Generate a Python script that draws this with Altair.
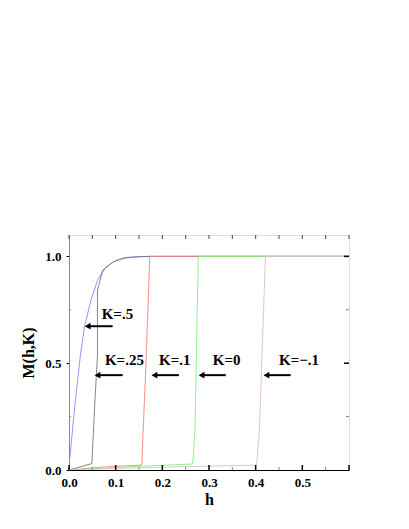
import altair as alt
import pandas as pd

# ---- data ----
series_names = ["K=-.1", "K=0", "K=.1", "K=.25", "K=.5"]
series_colors = ["#dcc0c0", "#7ff07f", "#ff7f7f", "#777777", "#8888ff"]

h_k05 = [0.001, 0.012, 0.024, 0.033, 0.047, 0.061, 0.079, 0.100, 0.122, 0.150, 0.190, 0.600]
m_k05 = [0.040, 0.290, 0.530, 0.670, 0.794, 0.888, 0.950, 0.981, 0.995, 0.999, 1.000, 1.000]

h_k025 = [0.000, 0.049, 0.055, 0.061, 0.061, 0.072, 0.094, 0.115, 0.140, 0.170, 0.600]
m_k025 = [0.000, 0.030, 0.300, 0.537, 0.840, 0.935, 0.973, 0.990, 0.997, 1.000, 1.000]

h_k01 = [0.000, 0.050, 0.100, 0.156, 0.159, 0.165, 0.173, 0.600]
m_k01 = [0.000, 0.010, 0.017, 0.023, 0.187, 0.500, 1.000, 1.000]

h_k0 = [0.000, 0.100, 0.200, 0.265, 0.270, 0.277, 0.600]
m_k0 = [0.000, 0.012, 0.022, 0.028, 0.187, 1.000, 1.000]

h_km01 = [0.000, 0.100, 0.200, 0.300, 0.402, 0.408, 0.421, 0.600]
m_km01 = [0.000, 0.007, 0.013, 0.018, 0.023, 0.187, 1.000, 1.000]

label_texts = ["K=.5", "K=.25", "K=.1", "K=0", "K=\u2212.1"]
label_h = [0.070, 0.077, 0.193, 0.308, 0.450]
label_m = [0.732, 0.517, 0.517, 0.517, 0.517]

arrow_tail_h = [0.0935, 0.115, 0.2355, 0.336, 0.475]
arrow_head_h = [0.040, 0.061, 0.183, 0.284, 0.423]
arrow_m = [0.673, 0.444, 0.444, 0.444, 0.444]

x_labels = [0.0, 0.1, 0.2, 0.3, 0.4, 0.5]
y_labels = [0.0, 0.5, 1.0]
top_ticks = [round(0.05 * i, 2) for i in range(13)]
bottom_major = [0.0, 0.1, 0.2, 0.3, 0.4, 0.5, 0.6]
bottom_minor = [0.05, 0.15, 0.25, 0.35, 0.45, 0.55]
right_major = [0.5, 1.0]
right_minor = [0.25, 0.75]

# ---- build tables ----
rows = []
for name, hs, ms in zip(["K=.5", "K=.25", "K=.1", "K=0", "K=-.1"],
                        [h_k05, h_k025, h_k01, h_k0, h_km01],
                        [m_k05, m_k025, m_k01, m_k0, m_km01]):
    for i, (h, m) in enumerate(zip(hs, ms)):
        rows.append({"series": name, "h": h, "M": m, "order": i})
curves = pd.DataFrame(rows)
labels = pd.DataFrame({"text": label_texts, "h": label_h, "M": label_m})
arrows = pd.DataFrame({"tail": arrow_tail_h, "head": arrow_head_h, "M": arrow_m})

W, H = 280, 235
font = "Liberation Serif"

xs = alt.Scale(domain=[0, 0.6], nice=False, zero=False)
ys = alt.Scale(domain=[0, 1.1], nice=False, zero=False)

x_axis = alt.Axis(values=x_labels, format=".1f", title="h", ticks=False,
                  labelFlush=False, labelOverlap=False,
                  labelFont=font, labelFontWeight="bold", labelFontSize=13,
                  labelPadding=6, titleFont=font, titleFontWeight="bold",
                  titleFontSize=16, titlePadding=2, domainColor="#000000",
                  grid=False, labelColor="#000", titleColor="#000")
y_axis = alt.Axis(values=y_labels, format=".1f", title="M(h,K)", tickSize=3,
                  labelFlush=False, labelOverlap=False,
                  tickColor="#000", labelFont=font, labelFontWeight="bold",
                  labelFontSize=13, labelPadding=5, titleFont=font,
                  titleFontWeight="bold", titleFontSize=16, titlePadding=8,
                  domainColor="#888888", grid=False, labelColor="#000",
                  titleColor="#000")

lines = alt.Chart(curves).mark_line(strokeWidth=0.9, clip=True).encode(
    x=alt.X("h:Q", scale=xs, axis=x_axis),
    y=alt.Y("M:Q", scale=ys, axis=y_axis),
    color=alt.Color("series:N", scale=alt.Scale(domain=series_names, range=series_colors), legend=None),
    order="order:Q",
    detail="series:N",
)

text = alt.Chart(labels).mark_text(font=font, fontWeight="bold", fontSize=15,
                                   align="left", baseline="middle", color="#000").encode(
    x=alt.X("h:Q", scale=xs), y=alt.Y("M:Q", scale=ys), text="text:N")

shafts = alt.Chart(arrows).mark_rule(strokeWidth=2, color="#000").encode(
    x=alt.X("tail:Q", scale=xs), x2="head:Q", y=alt.Y("M:Q", scale=ys))
heads = alt.Chart(arrows).mark_point(shape="triangle-left", filled=True, size=45,
                                     color="#000", opacity=1).encode(
    x=alt.X("head:Q", scale=xs), y=alt.Y("M:Q", scale=ys))

tt = alt.Chart(pd.DataFrame({"t": top_ticks})).mark_rule(color="#444", strokeWidth=1).encode(
    x=alt.X("t:Q", scale=xs), y=alt.value(0), y2=alt.value(4))
bmaj = alt.Chart(pd.DataFrame({"t": bottom_major})).mark_rule(color="#000", strokeWidth=1.5).encode(
    x=alt.X("t:Q", scale=xs), y=alt.value(H), y2=alt.value(H - 5))
bmin = alt.Chart(pd.DataFrame({"t": bottom_minor})).mark_rule(color="#888", strokeWidth=1).encode(
    x=alt.X("t:Q", scale=xs), y=alt.value(H), y2=alt.value(H - 3))
rmaj = alt.Chart(pd.DataFrame({"t": right_major})).mark_rule(color="#000", strokeWidth=1.5).encode(
    y=alt.Y("t:Q", scale=ys), x=alt.value(W), x2=alt.value(W - 5))
rmin = alt.Chart(pd.DataFrame({"t": right_minor})).mark_rule(color="#888", strokeWidth=1).encode(
    y=alt.Y("t:Q", scale=ys), x=alt.value(W), x2=alt.value(W - 3))
lmin = alt.Chart(pd.DataFrame({"t": right_minor})).mark_rule(color="#888", strokeWidth=1).encode(
    y=alt.Y("t:Q", scale=ys), x=alt.value(0), x2=alt.value(2))

chart = alt.layer(lines, shafts, heads, text, tt, bmaj, bmin, rmaj, rmin, lmin).properties(
    width=W, height=H,
    autosize=alt.AutoSizeParams(type="none"),
    padding={"left": 61, "top": 227, "right": 40, "bottom": 40},
).configure_view(stroke="#999999", strokeWidth=1).configure(background="white")

chart.save("out.html", embed_options={"renderer": "svg", "actions": False})
